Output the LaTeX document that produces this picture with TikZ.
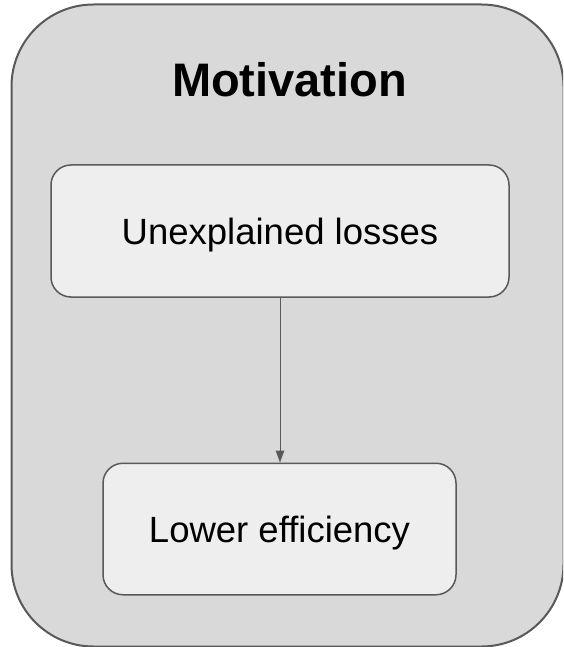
\documentclass[tikz,border=0pt]{standalone}
\usepackage{fontspec}
\setmainfont{Liberation Sans}
\usetikzlibrary{arrows.meta}
\definecolor{framefill}{HTML}{D9D9D9}
\definecolor{boxfill}{HTML}{EEEEEE}
\definecolor{edgegray}{HTML}{595959}
\tikzset{
  outerbox/.style={draw=edgegray, fill=framefill, line width=2pt, rounded corners=82pt,
    minimum width=552pt, minimum height=642pt, inner sep=0pt},
  titletext/.style={inner sep=0pt, font=\fontsize{47}{52}\selectfont\bfseries,
    text height=33.7pt, text depth=0pt},
  stepbox/.style={draw=edgegray, fill=boxfill, line width=1.5pt, rounded corners=20pt,
    inner sep=0pt, font=\fontsize{36.5}{40}\selectfont, text height=26.1pt, text depth=0pt},
  link/.style={draw=edgegray, line width=1pt, -{Triangle[length=12pt,width=8.5pt]}}
}
\begin{document}
\begin{tikzpicture}[x=1pt,y=-1pt]
\useasboundingbox (0,0) rectangle (563,647);
\begin{scope}
  \clip (0,0) rectangle (563,647);
  \node[outerbox] (frame) at (287.5,325.5) {};
\end{scope}
\node[titletext] (title) at (289.5,79.5) {Motivation};
\node[stepbox, minimum width=458pt, minimum height=132pt] (losses) at (280,231) {Unexplained losses};
\node[stepbox, minimum width=353pt, minimum height=131.5pt] (eff) at (279.5,529) {Lower efficiency};
\draw[link] (losses.south) -- (losses.south |- eff.north);
\end{tikzpicture}
\end{document}
